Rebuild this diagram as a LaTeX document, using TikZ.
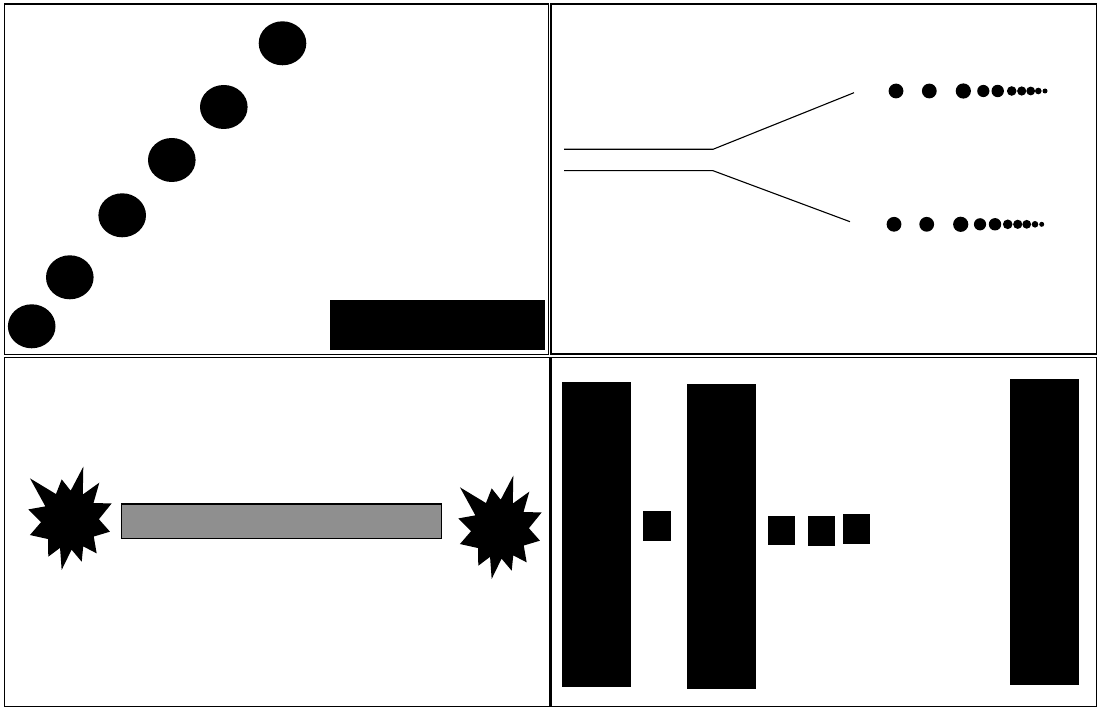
\documentclass[tikz,border=0pt]{standalone}
\usetikzlibrary{shapes.geometric}
\definecolor{bargray}{HTML}{8F8F8F}
\tikzset{
  panel/.style={draw=black, line width=1.8pt},
  blob/.style={ellipse, fill=black, inner sep=0pt, minimum width=47.6pt, minimum height=44pt},
  dotc/.style={fill=black},
  wire/.style={draw=black, line width=1.1pt},
  block/.style={fill=black},
  burst/.style={fill=black},
}
\begin{document}
\begin{tikzpicture}[x=1pt,y=-1pt]
\useasboundingbox (0,0) rectangle (1099,708);
\fill[white] (0,0) rectangle (1099,708);
% panels
\draw[panel] (4.5,4) rectangle (548.5,354.5);
\draw[panel] (551,4) rectangle (1096.5,354);
\draw[panel] (4.5,357.5) rectangle (549.5,706.5);
\draw[panel] (551,357.5) rectangle (1096.5,706.5);

% top-left: ellipses
\node[blob] (e1) at (31.7,326.3) {};
\node[blob] (e2) at (69.8,277.3) {};
\node[blob] (e3) at (122.2,215.3) {};
\node[blob] (e4) at (171.8,160) {};
\node[blob] (e5) at (223.8,107) {};
\node[blob] (e6) at (282.5,43.3) {};
\fill[block] (330,300) rectangle (545.3,350);

% top-right: lines
\coordinate (a1) at (564,149.3);
\coordinate (a2) at (713,149.3);
\coordinate (a3) at (854,92.7);
\coordinate (b1) at (564,170.7);
\coordinate (b2) at (713,170.7);
\coordinate (b3) at (850,221.7);
\draw[wire] (a1) -- (a2) -- (a3);
\draw[wire] (b1) -- (b2) -- (b3);
% dots
\foreach \x/\r in {896/7.4, 929.3/7.4, 963.3/7.6, 983.3/6.1, 997.7/6.2, 1011.7/4.8, 1021.7/4.6, 1030.7/4.4, 1038.3/3.3, 1045/2.5}
  \fill[dotc] (\x,91) circle (\r);
\foreach \x/\r in {894/7.4, 926.7/7.4, 960.7/7.6, 980/6.1, 995/6.2, 1007.7/4.8, 1017.7/4.6, 1026.7/4.4, 1035/3.3, 1041.7/2.5}
  \fill[dotc] (\x,224.3) circle (\r);

% bottom-left: bursts and bar
\foreach \cx/\cy in {70/521.7, 500/530.7}{
  \begin{scope}[shift={(\cx,\cy)}]
  \fill[burst] (-76.4:56.6) -- (-64.8:30) -- (-53.1:48.8) -- (-38.4:30) -- (-23.7:45.5) -- (-4.9:29)
    -- (14:41.2) -- (32:28) -- (49.9:41.4) -- (61.8:28) -- (73.7:41.7) -- (86.8:28)
    -- (99.8:49) -- (110.8:28) -- (121.8:41.2) -- (141.7:28) -- (161.6:42.2) -- (179:29)
    -- (196.4:43.5) -- (211.9:29) -- (227.3:59) -- (243.1:31) -- (258.9:43.1) -- (271.3:31) -- cycle;
  \end{scope}
}
\draw[fill=bargray, draw=black, line width=1.5pt] (121.7,504) rectangle (441.7,538.3);

% bottom-right: blocks
\fill[block] (562.3,382.3) rectangle (631,687.3);
\fill[block] (643.3,511) rectangle (670.7,540.7);
\fill[block] (687,384) rectangle (755.7,689.3);
\fill[block] (768.3,516) rectangle (795,545.3);
\fill[block] (808.3,516) rectangle (835,545.7);
\fill[block] (843.3,514.3) rectangle (870,544);
\fill[block] (1010,379.3) rectangle (1078.7,685);
\end{tikzpicture}
\end{document}
